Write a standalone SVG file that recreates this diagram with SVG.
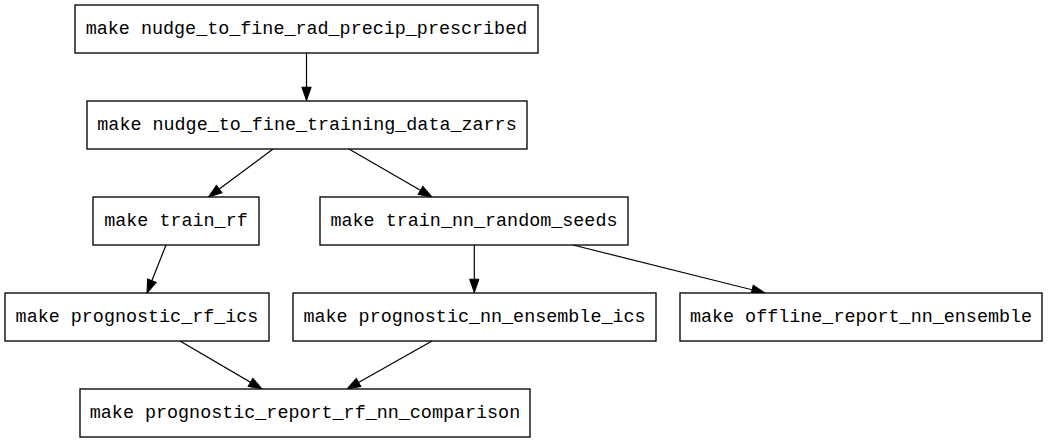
<svg xmlns="http://www.w3.org/2000/svg" width="1048" height="443" viewBox="0 0 1048 443">
<style>
.node rect{fill:#fff;stroke:#000;stroke-width:1.33}
.node text{font-family:"Liberation Mono","Courier New",monospace;font-size:18.4px;fill:#000;text-anchor:middle}
.edge{stroke:#000;stroke-width:1.2;fill:none;marker-end:url(#ah)}
</style>
<defs>
<marker id="ah" markerUnits="userSpaceOnUse" markerWidth="14" markerHeight="10" refX="13.3" refY="4.67" orient="auto" overflow="visible">
<path d="M0,0 L13.3,4.67 L0,9.33 z" fill="#000" stroke="#000" stroke-width="1"/>
</marker>
</defs>
<rect width="1048" height="443" fill="#fff"/>
<g id="edges">
<line class="edge" x1="306.5" y1="53" x2="306.5" y2="100.5"/>
<line class="edge" x1="273" y1="149" x2="208.5" y2="197"/>
<line class="edge" x1="349" y1="149" x2="432" y2="197"/>
<line class="edge" x1="166" y1="245" x2="147" y2="293"/>
<line class="edge" x1="474.3" y1="245" x2="474.3" y2="292.5"/>
<line class="edge" x1="573" y1="245" x2="765" y2="293"/>
<line class="edge" x1="180" y1="341" x2="262" y2="389"/>
<line class="edge" x1="432" y1="341" x2="347" y2="389"/>
</g>
<g id="n1" class="node"><rect x="75" y="5" width="463" height="48"/><text x="306.5" y="34">make nudge_to_fine_rad_precip_prescribed</text></g>
<g id="n2" class="node"><rect x="87" y="101" width="440" height="48"/><text x="307" y="130">make nudge_to_fine_training_data_zarrs</text></g>
<g id="n3" class="node"><rect x="93" y="197" width="166" height="48"/><text x="176" y="226">make train_rf</text></g>
<g id="n4" class="node"><rect x="320" y="197" width="308" height="48"/><text x="474" y="226">make train_nn_random_seeds</text></g>
<g id="n5" class="node"><rect x="5" y="293" width="264" height="48"/><text x="137" y="322">make prognostic_rf_ics</text></g>
<g id="n6" class="node"><rect x="293" y="293" width="363" height="48"/><text x="474.5" y="322">make prognostic_nn_ensemble_ics</text></g>
<g id="n7" class="node"><rect x="680" y="293" width="362" height="48"/><text x="861" y="322">make offline_report_nn_ensemble</text></g>
<g id="n8" class="node"><rect x="80" y="389" width="450" height="48"/><text x="305" y="418">make prognostic_report_rf_nn_comparison</text></g>
</svg>
